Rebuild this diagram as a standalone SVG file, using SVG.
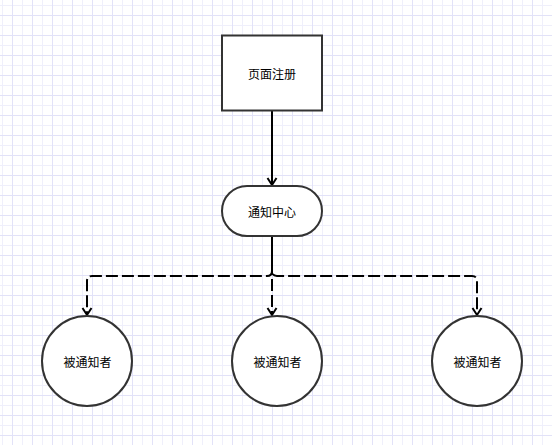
<svg xmlns="http://www.w3.org/2000/svg" width="552" height="445" viewBox="0 0 552 445">
<defs>
<pattern id="grid" patternUnits="userSpaceOnUse" x="0" y="0" width="20" height="20">
<rect width="20" height="20" fill="#ffffff"/>
<path d="M2.5,0 V20 M0,5.5 H20" stroke="#efeffb" stroke-width="1" fill="none"/>
<path d="M12.5,0 V20 M0,15.5 H20" stroke="#e2e2f8" stroke-width="1" fill="none"/>
</pattern>
<marker id="arr" markerUnits="userSpaceOnUse" markerWidth="14" markerHeight="14" viewBox="0 0 14 14" refX="11" refY="7" orient="auto">
<path d="M4,2.5 L11,7 L4,11.5" fill="none" stroke="#000" stroke-width="2"/>
</marker>
</defs>
<style>
.node{fill:#fff;stroke:#333;stroke-width:2}
.lbl{font-family:"Noto Sans CJK SC","Noto Sans",sans-serif;font-size:12px;fill:#000;text-anchor:middle;dominant-baseline:central}
.edge{fill:none;stroke:#000;stroke-width:2}
.dash{stroke-dasharray:12 4}
</style>
<rect width="552" height="445" fill="url(#grid)"/>
<g id="connectors">
<path class="edge" d="M272,111 V185" marker-end="url(#arr)"/>
<path class="edge dash" d="M272,236 V271 Q272,276 267,276 H92 Q87,276 87,281 V315" marker-end="url(#arr)"/>
<path class="edge dash" style="stroke-dashoffset:5" d="M272,236 V315" marker-end="url(#arr)"/>
<path class="edge dash" style="stroke-dashoffset:10" d="M272,236 V271 Q272,276 277,276 H472 Q477,276 477,281 V315" marker-end="url(#arr)"/>
</g>
<g id="page-register">
<rect class="node" x="222" y="35.5" width="100" height="75"/>
<text class="lbl" x="272" y="73">页面注册</text>
</g>
<g id="notify-center">
<rect class="node" x="222" y="186" width="100" height="50" rx="25" ry="25"/>
<text class="lbl" x="272" y="211">通知中心</text>
</g>
<g id="observer-1">
<circle class="node" cx="87" cy="361" r="45"/>
<text class="lbl" x="87.5" y="361">被通知者</text>
</g>
<g id="observer-2">
<circle class="node" cx="277" cy="361" r="45"/>
<text class="lbl" x="277.5" y="361">被通知者</text>
</g>
<g id="observer-3">
<circle class="node" cx="477" cy="361" r="45"/>
<text class="lbl" x="477.5" y="361">被通知者</text>
</g>
</svg>
